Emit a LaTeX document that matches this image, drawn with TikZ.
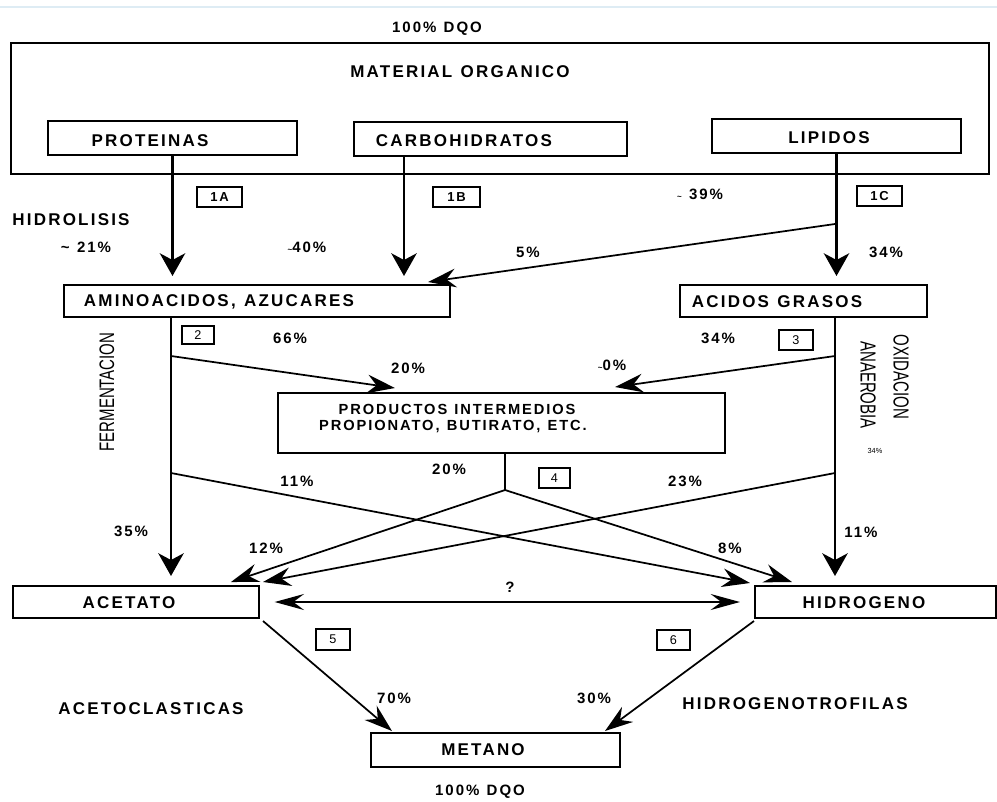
\documentclass[tikz,border=0pt]{standalone}
\usepackage{fontspec}
\usepackage{graphicx}
\setmainfont{Liberation Sans}[LetterSpace=13, WordSpace=1.2]
\newfontfamily\plainsans{Liberation Sans}
\usetikzlibrary{arrows.meta}

\tikzset{
  bx/.style 2 args={draw, line width=1.5pt, minimum width=#1*0.75pt, minimum height=#2*0.75pt, inner sep=0pt},
  nbox/.style 2 args={draw, line width=1.5pt, minimum width=#1*0.75pt, minimum height=#2*0.75pt, inner sep=0pt},
  lbl/.style={font=\bfseries\fontsize{12.75}{15}\selectfont, inner sep=0pt},
  midlbl/.style={font=\bfseries\fontsize{11}{13}\selectfont, inner sep=0pt},
  pct/.style={font=\bfseries\fontsize{11.25}{13}\selectfont, inner sep=0pt},
  tinypct/.style={font=\plainsans\fontsize{5.5}{6}\selectfont, inner sep=0pt},
  numlbl/.style={font=\plainsans\fontsize{9.5}{11}\selectfont, inner sep=0pt},
  bnumlbl/.style={font=\bfseries\fontsize{9.75}{11}\selectfont, inner sep=0pt},
  vlbl/.style={font=\plainsans\fontsize{11.25}{13}\selectfont, inner sep=0pt},
  vline/.style={line width=2pt},
  dline/.style={line width=1.3pt},
  varr/.style={vline, -{Stealth[length=17pt,width=19pt,inset=5pt]}},
  darr/.style={dline, -{Stealth[length=21pt,width=14pt,inset=7pt]}},
  dblarr/.style={dline, {Stealth[length=22pt,width=12pt,inset=8pt]}-{Stealth[length=22pt,width=12pt,inset=8pt]}},
}

\newcommand{\smalltilde}{{\fontsize{6}{7}\selectfont\char"7E}}

\begin{document}
\begin{tikzpicture}[x=0.75pt,y=-0.75pt]
  \useasboundingbox (0,0) rectangle (997,801);
  \fill[white] (0,0) rectangle (997,801);
  \draw[color={rgb,255:red,222;green,236;blue,244}, line width=1pt] (0,7) -- (997,7);

  % ---- organic matter and its three fractions ----
  \node[pct] (dqo-top) at (437,29) {100\% DQO};
  \node[bx={978}{131}] (outer) at (500,108.5) {};
  \node[lbl] (t-outer) at (460,72) {MATERIAL ORGANICO};

  \node[bx={249}{34}] (prot) at (172.5,138) {};
  \node[lbl] (t-prot) at (150,141) {PROTEINAS};
  \node[bx={273}{34}] (carbo) at (490.5,139) {};
  \node[lbl] (t-carbo) at (464,141) {CARBOHIDRATOS};
  \node[bx={249}{34}] (lip) at (836.5,136) {};
  \node[lbl] (t-lip) at (829,138) {LIPIDOS};

  % ---- hydrolysis ----
  \node[nbox={45}{20}, line width=1.8pt] (n1a) at (219.5,197) {};
  \node[bnumlbl] (t-n1a) at (219.5,197) {1A};
  \node[nbox={47}{20}, line width=1.8pt] (n1b) at (456.5,197) {};
  \node[bnumlbl] (t-n1b) at (456.5,197) {1B};
  \node[nbox={45}{20}, line width=1.8pt] (n1c) at (879.5,196) {};
  \node[bnumlbl] (t-n1c) at (879.5,196) {1C};

  \node[lbl] (t-hidrol) at (71,220) {HIDROLISIS};
  \node[pct] (p21) at (86,247) {\char"7E\ 21\%};
  \node[pct] (p40) at (307,247) {\smalltilde40\%};
  \node[pct] (p39) at (700,194) {\smalltilde\ 39\%};
  \node[pct] (p5) at (528,252) {5\%};
  \node[pct] (p34a) at (886,252) {34\%};

  \node[bx={386}{32}] (amino) at (257,301) {};
  \node[lbl] (t-amino) at (219,302) {AMINOACIDOS, AZUCARES};
  \node[bx={247}{32}] (acidos) at (803.5,301) {};
  \node[lbl] (t-acidos) at (777,302) {ACIDOS GRASOS};

  \coordinate (cb) at (404,156);
  \coordinate (b5) at (835,224);
  \coordinate (e5) at (428,282);
  \draw[varr, shorten >=6pt] (prot.south) -- (prot.south |- amino.north);
  \draw[varr, shorten >=6pt] (cb) -- (cb |- amino.north);
  \draw[varr, shorten >=6pt] (lip.south) -- (lip.south |- acidos.north);
  \draw[darr] (b5) -- (e5);

  % ---- fermentation and anaerobic oxidation ----
  \node[nbox={32}{18}] (n2) at (198,335) {};
  \node[numlbl] (t-n2) at (198,335) {2};
  \node[nbox={34}{20}] (n3) at (796,340) {};
  \node[numlbl] (t-n3) at (796,340) {3};
  \node[pct] (p66) at (290,338) {66\%};
  \node[pct] (p20a) at (408,368) {20\%};
  \node[pct] (p0) at (612,365) {\smalltilde0\%};
  \node[pct] (p34b) at (718,338) {34\%};

  \node[vlbl, rotate=90] (t-ferm) at (107,392) {\scalebox{1}[1.4]{FERMENTACION}};
  \node[vlbl, rotate=-90] (t-oxid) at (901,377) {\scalebox{1}[1.45]{OXIDACION}};
  \node[vlbl, rotate=-90] (t-anaer) at (868,385) {\scalebox{1}[1.45]{ANAEROBIA}};
  \node[tinypct] (p34c) at (875,451) {34\%};

  \node[bx={447}{60}] (prod) at (501.5,423) {};
  \node[midlbl] (t-prod1) at (457,409) {PRODUCTOS INTERMEDIOS};
  \node[midlbl] (t-prod2) at (453,427) {PROPIONATO, BUTIRATO, ETC.};

  \node[bx={246}{32}] (acet) at (136,602) {};
  \node[lbl] (t-acet) at (129,603) {ACETATO};
  \node[bx={241}{32}] (hidro) at (875.5,602) {};
  \node[lbl] (t-hidro) at (864,603) {HIDROGENO};

  \coordinate (a0) at (171,317);
  \coordinate (a1) at (171,356);
  \coordinate (a2) at (171,473);
  \coordinate (g0) at (835,317);
  \coordinate (g1) at (835,356);
  \coordinate (g2) at (835,473);
  \coordinate (e1) at (395,388);
  \coordinate (e2) at (615,387);
  \coordinate (e3) at (750,583);
  \coordinate (e4) at (263,582);
  \draw[varr, shorten >=6.75pt] (a0) -- (a0 |- acet.north);
  \draw[varr, shorten >=6.75pt] (g0) -- (g0 |- hidro.north);
  \draw[darr] (a1) -- (e1);
  \draw[darr] (g1) -- (e2);
  \draw[darr] (a2) -- (e3);
  \draw[darr] (g2) -- (e4);

  % ---- intermediate products to acetate and hydrogen ----
  \node[nbox={31}{20}] (n4) at (554.5,478) {};
  \node[numlbl] (t-n4) at (554.5,478) {4};
  \node[pct] (p20b) at (449,469) {20\%};
  \node[pct] (p11a) at (297,481) {11\%};
  \node[pct] (p23) at (685,481) {23\%};
  \node[pct] (p35) at (131,531) {35\%};
  \node[pct] (p12) at (266,548) {12\%};
  \node[pct] (p8) at (730,548) {8\%};
  \node[pct] (p11b) at (861,532) {11\%};

  \coordinate (q0) at (505,453);
  \coordinate (q1) at (505,490);
  \coordinate (e6) at (231,582);
  \coordinate (e7) at (792,582);
  \draw[vline] (q0) -- (q1);
  \draw[darr] (q1) -- (e6);
  \draw[darr] (q1) -- (e7);

  \node[pct] (pq) at (510,587) {?};
  \draw[dblarr, shorten <=11pt, shorten >=10.5pt] (acet.east) -- (hidro.west);

  % ---- methanogenesis ----
  \node[nbox={34}{21}] (n5) at (333,639.5) {};
  \node[numlbl] (t-n5) at (333,639.5) {5};
  \node[nbox={33}{20}] (n6) at (673.5,640) {};
  \node[numlbl] (t-n6) at (673.5,640) {6};
  \node[pct] (p70) at (394,698) {70\%};
  \node[pct] (p30) at (594,698) {30\%};
  \node[lbl] (t-acetocl) at (151,709) {ACETOCLASTICAS};
  \node[lbl] (t-hidrotr) at (795,704) {HIDROGENOTROFILAS};

  \node[bx={249}{34}] (metano) at (495.5,750) {};
  \node[lbl] (t-metano) at (483,750) {METANO};
  \node[pct] (dqo-bot) at (480,792) {100\% DQO};

  \coordinate (s8) at (263,621);
  \coordinate (e8) at (392,731);
  \coordinate (s9) at (754,621);
  \coordinate (e9) at (605,731);
  \draw[darr] (s8) -- (e8);
  \draw[darr] (s9) -- (e9);
\end{tikzpicture}
\end{document}
